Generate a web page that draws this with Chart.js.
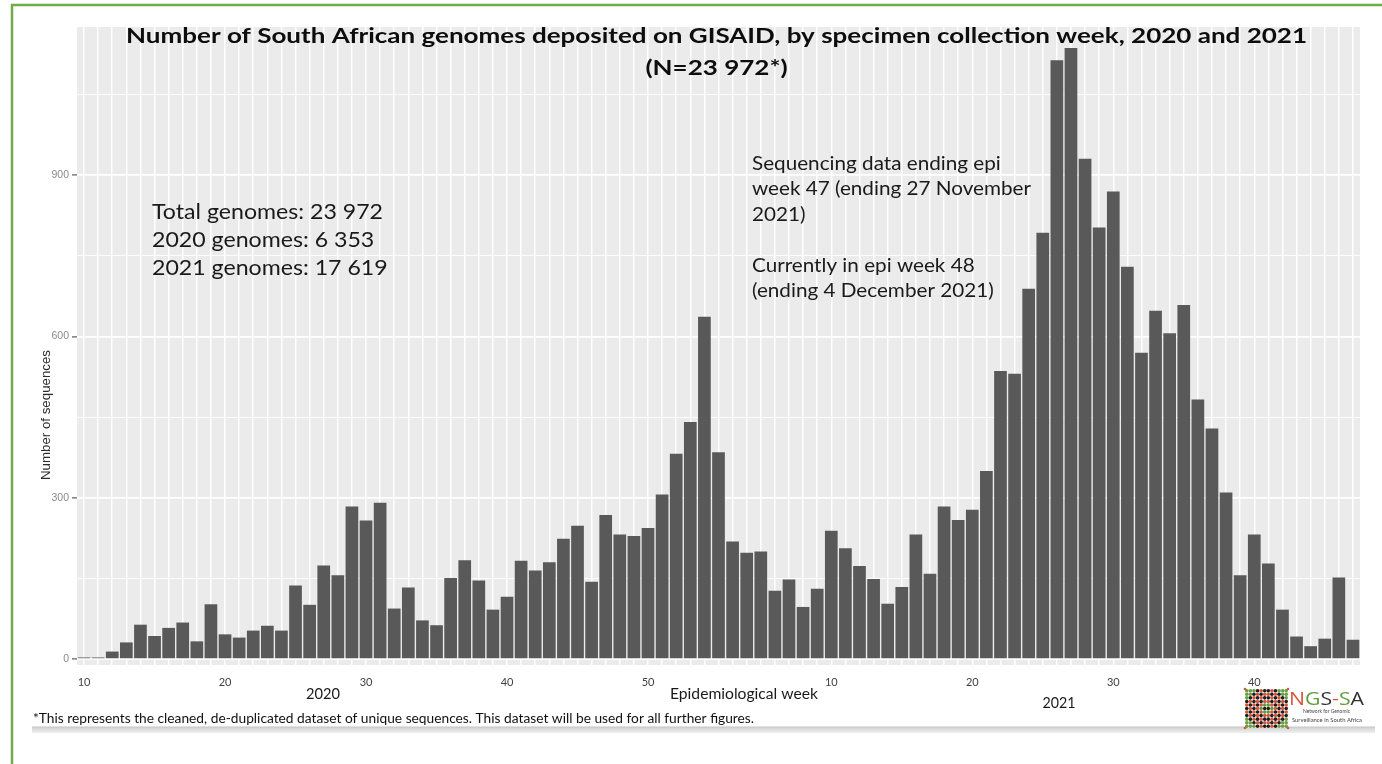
<!DOCTYPE html>
<html>
<head>
<meta charset="utf-8">
<title>South African genomes on GISAID by collection week</title>
<script src="https://cdn.jsdelivr.net/npm/chart.js@4.4.1/dist/chart.umd.min.js"></script>
<style>
  html, body { margin: 0; padding: 0; background: #ffffff; }
  #wrap { position: relative; width: 1382px; height: 764px; }
  canvas { display: block; }
</style>
</head>
<body>
<div id="wrap"><canvas id="chart" width="1382" height="764"></canvas></div>
<script>
// Epidemiological weeks shown on the x axis (2020 had 53 epi weeks)
const weeks2020 = [10, 11, 12, 13, 14, 15, 16, 17, 18, 19, 20, 21, 22, 23, 24, 25, 26, 27, 28, 29, 30,
                   31, 32, 33, 34, 35, 36, 37, 38, 39, 40, 41, 42, 43, 44, 45, 46, 47, 48, 49, 50, 51, 52, 53];
const weeks2021 = [1, 2, 3, 4, 5, 6, 7, 8, 9, 10, 11, 12, 13, 14, 15, 16, 17, 18, 19, 20, 21, 22, 23, 24,
                   25, 26, 27, 28, 29, 30, 31, 32, 33, 34, 35, 36, 37, 38, 39, 40, 41, 42, 43, 44, 45, 46, 47];

// Genomes deposited per specimen collection week
const counts2020 = [3, 3, 14, 31, 64, 43, 58, 68, 33, 102, 46, 40, 53, 62, 53, 137, 101, 174, 156, 284, 258,
                    291, 94, 133, 72, 63, 151, 184, 146, 92, 116, 183, 165, 180, 224, 248, 144, 268, 232, 229, 244,
                    306, 382, 441];
const counts2021 = [637, 385, 219, 198, 200, 127, 148, 97, 131, 239, 206, 173, 149, 103, 134, 232, 159, 284,
                    259, 278, 350, 536, 531, 689, 793, 1114, 1137, 931, 803, 870, 730, 570, 648, 606, 659, 483,
                    429, 310, 156, 232, 178, 92, 42, 24, 38, 152, 36];

// Axis ticks
const yMajorTicks = [0, 300, 600, 900];
const yMinorTicks = [150, 450, 750, 1050];
const xTickWeeks = [10, 20, 30, 40, 50];

// Text blocks
const titleLines = [
  'Number of South African genomes deposited on GISAID, by specimen collection week, 2020 and 2021',
  '(N=23 972*)'
];
const totalsLines = ['Total genomes: 23 972', '2020 genomes: 6 353', '2021 genomes: 17 619'];
const noteLines = ['Sequencing data ending epi', 'week 47 (ending 27 November', '2021)', '',
                   'Currently in epi week 48', '(ending 4 December 2021)'];
const footnote = '*This represents the cleaned, de-duplicated dataset of unique sequences. This dataset will be used for all further figures.';

// Build the category axis from the two seasons
const categories = weeks2020.map(w => '2020-W' + w).concat(weeks2021.map(w => '2021-W' + w));
const weekOf = weeks2020.concat(weeks2021);
const counts = counts2020.concat(counts2021);

// Draw text so that it spans a given width (horizontal scaling of the glyphs)
function fitText(ctx, text, x, y, font, width, align) {
  ctx.save();
  ctx.font = font;
  const w = ctx.measureText(text).width;
  const s = width ? width / w : 1;
  let left = x;
  if (align === 'center') left = x - (w * s) / 2;
  ctx.translate(left, y);
  ctx.scale(s, 1);
  ctx.textAlign = 'left';
  ctx.textBaseline = 'alphabetic';
  ctx.fillText(text, 0, 0);
  ctx.restore();
  return s;
}
function scaleFor(ctx, text, font, width) {
  ctx.save(); ctx.font = font;
  const w = ctx.measureText(text).width;
  ctx.restore();
  return width / w;
}

// Grey ggplot-style panel behind the grid
const panelBackground = {
  id: 'panelBackground',
  beforeDraw(chart) {
    const { ctx, chartArea: a } = chart;
    ctx.save();
    ctx.fillStyle = '#ebebeb';
    ctx.fillRect(a.left, a.top, a.right - a.left, a.bottom - a.top);
    ctx.restore();
  }
};

// Beaded emblem of the NGS-SA logo
function drawEmblem(ctx, x0, y0, w, h) {
  const cols = 12, rows = 11;
  const dx = w / cols, dy = h / rows;
  const ci = (cols - 1) / 2, cj = (rows - 1) / 2;
  ctx.save();
  ctx.fillStyle = '#f4f4f4';
  ctx.fillRect(x0, y0, w, h);
  for (let i = 0; i < cols; i++) {
    for (let j = 0; j < rows; j++) {
      const d = Math.abs(i - ci) + Math.abs(j - cj);
      let c = '#6a9f45';
      if (d < 0.8) c = '#1d1d1d';
      else if (d < 2.2) c = '#5e9b3c';
      else if (d < 3.2) c = '#d4553a';
      else if (d < 4.2) c = '#1d1d1d';
      else if (d < 5.2) c = '#d4553a';
      else if (d < 6.2) c = '#1d1d1d';
      else if (d < 7.2) c = '#d4553a';
      else if (d < 8.2) c = '#1d1d1d';
      ctx.fillStyle = c;
      ctx.beginPath();
      ctx.arc(x0 + dx * (i + 0.5), y0 + dy * (j + 0.5), Math.min(dx, dy) * 0.5, 0, Math.PI * 2);
      ctx.fill();
    }
  }
  ctx.fillStyle = '#d4553a';
  [[x0, y0], [x0 + w, y0], [x0, y0 + h], [x0 + w, y0 + h]].forEach(p => {
    ctx.beginPath(); ctx.arc(p[0], p[1], 1.3, 0, Math.PI * 2); ctx.fill();
  });
  ctx.restore();
}

// Titles, annotations, axis names, footnote, frame and logo
const decorations = {
  id: 'decorations',
  afterDraw(chart) {
    const ctx = chart.ctx;
    ctx.save();

    // slide frame
    ctx.strokeStyle = '#70ad47';
    ctx.lineWidth = 2.5;
    ctx.beginPath();
    ctx.moveTo(12, 764); ctx.lineTo(12, 5); ctx.lineTo(1382, 5);
    ctx.stroke();

    // title
    ctx.fillStyle = '#0d0d0d';
    const tFont = 'bold 21px Lato';
    const ts = scaleFor(ctx, titleLines[0], tFont, 1181);
    ctx.save(); ctx.font = tFont;
    const w2 = ctx.measureText(titleLines[1]).width * ts;
    ctx.restore();
    fitText(ctx, titleLines[0], 716.5, 42.5, tFont, 1181, 'center');
    fitText(ctx, titleLines[1], 716.5, 75, tFont, w2, 'center');

    // totals block
    ctx.fillStyle = '#1a1a1a';
    const bFont = '21.5px Lato';
    const bs = scaleFor(ctx, totalsLines[0], bFont, 231);
    totalsLines.forEach((line, i) => {
      ctx.save(); ctx.font = bFont;
      const w = ctx.measureText(line).width * bs;
      ctx.restore();
      fitText(ctx, line, 152, 218.5 + i * 28, bFont, w, 'left');
    });

    // sequencing note block
    const nFont = '18.5px Lato';
    const ns = scaleFor(ctx, noteLines[1], nFont, 279);
    const noteBase = [169.5, 195, 220.5, 246, 271.7, 296.7];
    noteLines.forEach((line, i) => {
      if (!line) return;
      ctx.save(); ctx.font = nFont;
      const w = ctx.measureText(line).width * ns;
      ctx.restore();
      fitText(ctx, line, 752, noteBase[i], nFont, w, 'left');
    });

    // axis names
    const aFont = '15.5px Lato';
    fitText(ctx, '2020', 323, 699, aFont, 34, 'center');
    fitText(ctx, 'Epidemiological week', 670, 699, aFont, 148, 'left');
    fitText(ctx, '2021', 1059, 707.5, aFont, 33, 'center');

    // y axis name
    ctx.save();
    ctx.translate(49.5, 415);
    ctx.rotate(-Math.PI / 2);
    ctx.fillStyle = '#2b2b2b';
    fitText(ctx, 'Number of sequences', 0, 0, '12.5px "Liberation Sans"', 130, 'center');
    ctx.restore();

    // footnote and the shaded rule under it
    ctx.fillStyle = '#111111';
    fitText(ctx, footnote, 33, 722.5, '12.5px Lato', 721, 'left');
    const g = ctx.createLinearGradient(0, 726.5, 0, 733);
    g.addColorStop(0, '#c4c4c4');
    g.addColorStop(0.35, '#dadada');
    g.addColorStop(1, '#f0f0f0');
    ctx.fillStyle = g;
    ctx.fillRect(32, 726.5, 1343, 6.5);

    // logo
    drawEmblem(ctx, 1245, 689, 43, 39);
    const lFont = '18px "Open Sans"';
    const ls = scaleFor(ctx, 'NGS-SA', lFont, 75);
    ctx.save();
    ctx.translate(1289, 705);
    ctx.scale(ls, 1);
    ctx.font = lFont;
    ctx.textBaseline = 'alphabetic';
    const parts = [['N', '#d4553a'], ['G', '#5e9b3c'], ['S', '#333333'], ['-', '#d4553a'], ['S', '#5e9b3c'], ['A', '#333333']];
    let px = 0;
    parts.forEach(p => {
      ctx.fillStyle = p[1];
      ctx.fillText(p[0], px, 0);
      px += ctx.measureText(p[0]).width;
    });
    ctx.restore();
    ctx.fillStyle = '#444444';
    fitText(ctx, 'Network for Genomic', 1326.5, 713, '5.5px Lato', 47, 'center');
    fitText(ctx, 'Surveillance in South Africa', 1327, 721.5, '5.5px Lato', 70, 'center');

    ctx.restore();
  }
};

new Chart(document.getElementById('chart'), {
  type: 'bar',
  data: {
    labels: categories,
    datasets: [{
      label: 'Genomes',
      data: counts,
      backgroundColor: '#595959',
      borderWidth: 0,
      barPercentage: 0.9,
      categoryPercentage: 1.0
    }]
  },
  options: {
    responsive: false,
    maintainAspectRatio: false,
    devicePixelRatio: 1,
    animation: false,
    layout: { padding: { left: 0, top: 27, right: 22, bottom: 0 } },
    plugins: {
      legend: { display: false },
      tooltip: { enabled: false },
      title: { display: false }
    },
    scales: {
      x: {
        type: 'category',
        offset: true,
        border: { display: false },
        grid: { offset: false, color: '#ffffff', lineWidth: 1.5, drawTicks: false },
        ticks: {
          autoSkip: false,
          maxRotation: 0,
          minRotation: 0,
          padding: 11,
          color: '#3f3f3f',
          font: { family: 'Lato', size: 11 },
          callback: function (value, index) {
            const w = weekOf[index];
            return xTickWeeks.includes(w) ? String(w) : '';
          }
        },
        afterFit: function (scale) { scale.height = 99; }
      },
      y: {
        type: 'linear',
        min: -11,
        max: 1176,
        border: { display: false },
        afterBuildTicks: function (scale) {
          scale.ticks = yMajorTicks.concat(yMinorTicks).sort((a, b) => a - b).map(v => ({ value: v }));
        },
        grid: {
          color: '#ffffff',
          lineWidth: ctx => (yMajorTicks.includes(ctx.tick.value) ? 1.7 : 0.9),
          tickColor: ctx => (yMajorTicks.includes(ctx.tick.value) ? '#8a8a8a' : 'rgba(0,0,0,0)'),
          tickLength: 5,
          drawTicks: true
        },
        ticks: {
          padding: 3,
          color: '#8a8a8a',
          font: { family: 'Liberation Sans', size: 10.5 },
          callback: v => (yMajorTicks.includes(v) ? String(v) : '')
        },
        afterFit: function (scale) { scale.width = 77; }
      }
    }
  },
  plugins: [panelBackground, decorations]
});
</script>
</body>
</html>
